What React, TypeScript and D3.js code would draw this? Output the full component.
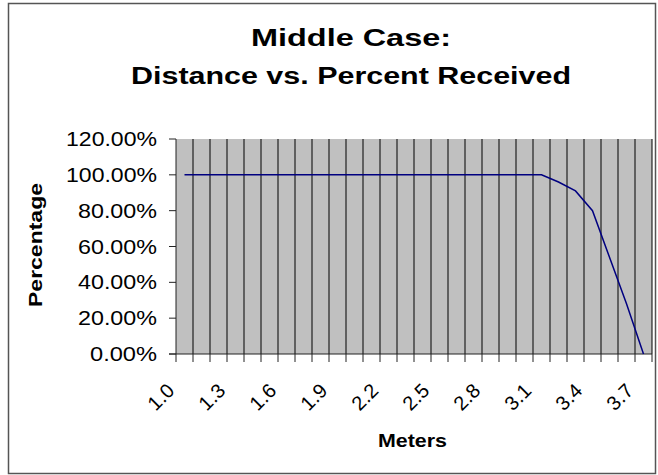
import React from "react";
import * as d3 from "d3";

const categories: string[] = [
  "1.0", "1.1", "1.2", "1.3", "1.4", "1.5", "1.6", "1.7", "1.8", "1.9",
  "2.0", "2.1", "2.2", "2.3", "2.4", "2.5", "2.6", "2.7", "2.8", "2.9",
  "3.0", "3.1", "3.2", "3.3", "3.4", "3.5", "3.6", "3.7",
];
const percentReceived: number[] = [
  1, 1, 1, 1, 1, 1, 1, 1, 1, 1,
  1, 1, 1, 1, 1, 1, 1, 1, 1, 1,
  1, 1, 0.96, 0.91, 0.8, 0.54, 0.28, 0,
];
const yTicks: number[] = [0, 0.2, 0.4, 0.6, 0.8, 1.0, 1.2];
const xLabelEvery = 3;

const W = 658;
const H = 475;
const plot = { left: 176, right: 652, top: 139, bottom: 354 };
const FONT = "'Liberation Sans', Arial, Helvetica, sans-serif";

export default function App() {
  const x = d3
    .scaleBand<string>()
    .domain(categories)
    .range([plot.left, plot.right])
    .padding(0);
  const bw = x.bandwidth();
  const y = d3.scaleLinear().domain([0, 1.2]).range([plot.bottom, plot.top]);
  const fmt = (v: number) => d3.format(".2%")(v);

  const line = d3
    .line<number>()
    .x((_, i) => (x(categories[i]) as number) + bw / 2)
    .y((d) => y(d));

  const boundaries = categories.map((c) => x(c) as number).concat([plot.right]);

  return (
    <svg
      width={W}
      height={H}
      viewBox={`0 0 ${W} ${H}`}
      style={{ position: "absolute", left: 0, top: 0, background: "#fff" }}
    >
      <rect x={0} y={0} width={W} height={H} fill="#fff" />
      <rect
        x={8.5}
        y={3.5}
        width={647}
        height={470}
        fill="#fff"
        stroke="#555"
        strokeWidth={1.5}
      />

      {/* Title */}
      <text
        x={351}
        y={46}
        textAnchor="middle"
        fontFamily={FONT}
        fontWeight="bold"
        fontSize={23.5}
        textLength={200}
        lengthAdjust="spacingAndGlyphs"
        fill="#000"
      >
        Middle Case:
      </text>
      <text
        x={351}
        y={84}
        textAnchor="middle"
        fontFamily={FONT}
        fontWeight="bold"
        fontSize={23.5}
        textLength={440}
        lengthAdjust="spacingAndGlyphs"
        fill="#000"
      >
        Distance vs. Percent Received
      </text>

      {/* Plot area */}
      <rect
        x={plot.left}
        y={plot.top}
        width={plot.right - plot.left}
        height={plot.bottom - plot.top}
        fill="#c0c0c0"
      />

      {/* Vertical gridlines at category boundaries */}
      {boundaries.slice(1).map((bx, i) => (
        <line
          key={"g" + i}
          x1={bx}
          x2={bx}
          y1={plot.top}
          y2={plot.bottom}
          stroke="#000"
          strokeWidth={1}
        />
      ))}

      {/* Y axis */}
      <line
        x1={plot.left}
        x2={plot.left}
        y1={plot.top}
        y2={plot.bottom}
        stroke="#222"
        strokeWidth={1}
      />
      {yTicks.map((t) => (
        <g key={"y" + t}>
          <line
            x1={plot.left - 7}
            x2={plot.left}
            y1={y(t)}
            y2={y(t)}
            stroke="#222"
            strokeWidth={1}
          />
          <text
            x={157}
            y={y(t) + 7}
            textAnchor="end"
            fontFamily={FONT}
            fontSize={20}
            textLength={(fmt(t).length - 2) * 12 + 31}
            lengthAdjust="spacingAndGlyphs"
            fill="#000"
          >
            {fmt(t)}
          </text>
        </g>
      ))}

      {/* X axis */}
      <line
        x1={plot.left - 7}
        x2={plot.right}
        y1={plot.bottom}
        y2={plot.bottom}
        stroke="#222"
        strokeWidth={1}
      />
      {boundaries.map((bx, i) => (
        <line
          key={"xt" + i}
          x1={bx}
          x2={bx}
          y1={plot.bottom}
          y2={plot.bottom + 8}
          stroke="#222"
          strokeWidth={1}
        />
      ))}
      {categories.map((c, i) =>
        i % xLabelEvery === 0 ? (
          <text
            key={"xl" + c}
            transform={`translate(${(x(c) as number) + bw / 2 - 9},${392}) rotate(-45)`}
            textAnchor="end"
            fontFamily={FONT}
            fontSize={20}
            fill="#000"
          >
            {c}
          </text>
        ) : null
      )}

      {/* Data line */}
      <path
        d={line(percentReceived) || ""}
        fill="none"
        stroke="#000080"
        strokeWidth={1.5}
      />

      {/* Axis titles */}
      <text
        transform={`translate(42,245) rotate(-90)`}
        textAnchor="middle"
        fontFamily={FONT}
        fontWeight="bold"
        fontSize={19}
        textLength={124}
        lengthAdjust="spacingAndGlyphs"
        fill="#000"
      >
        Percentage
      </text>
      <text
        x={412.5}
        y={447}
        textAnchor="middle"
        fontFamily={FONT}
        fontWeight="bold"
        fontSize={18}
        textLength={69}
        lengthAdjust="spacingAndGlyphs"
        fill="#000"
      >
        Meters
      </text>
    </svg>
  );
}
